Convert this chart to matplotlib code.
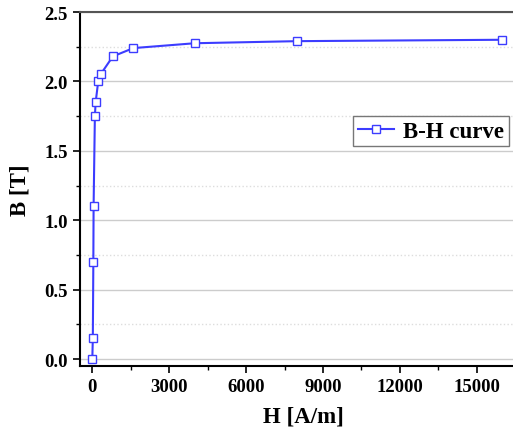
import matplotlib
matplotlib.use("Agg")
import matplotlib.pyplot as plt
from matplotlib.ticker import MultipleLocator

# B-H curve data
H_VALUES = [0, 20, 40, 50, 100, 130, 230, 320, 800, 1600, 4000, 8000, 16000]
B_VALUES = [0.0, 0.15, 0.70, 1.10, 1.75, 1.85, 2.00, 2.05, 2.18, 2.24, 2.275, 2.29, 2.30]
SERIES_LABEL = "B-H curve"

plt.rcParams["font.family"] = ["Liberation Serif", "DejaVu Serif"]
plt.rcParams["font.weight"] = "bold"

W, H = 513, 439
fig = plt.figure(figsize=(W / 100, H / 100), dpi=100)
ax = fig.add_axes([79.5 / W, 1 - 367 / H, (528 - 79.5) / W, (367 - 13) / H])

ax.plot(H_VALUES, B_VALUES, color="#3c3cff", linewidth=1.5, marker="s",
        markersize=5.5, markerfacecolor="white", markeredgecolor="#3c3cff",
        markeredgewidth=1.0, label=SERIES_LABEL, zorder=3)

ax.set_xlim(-500, 17000)
ax.set_ylim(-0.05, 2.5)

ax.xaxis.set_major_locator(MultipleLocator(3000))
ax.xaxis.set_minor_locator(MultipleLocator(1500))
ax.yaxis.set_major_locator(MultipleLocator(0.5))
ax.yaxis.set_minor_locator(MultipleLocator(0.25))
ax.yaxis.set_major_formatter(matplotlib.ticker.FormatStrFormatter("%.1f"))

ax.grid(True, which="major", axis="y", color="#cccccc", linewidth=1.0, linestyle="-")
ax.grid(True, which="minor", axis="y", color="#dddddd", linewidth=1.0, linestyle=":")
ax.set_axisbelow(True)

ax.tick_params(which="major", direction="out", length=5, width=1.2, labelsize=13.5)
ax.tick_params(which="minor", direction="out", length=3, width=1.0)

ax.spines["right"].set_visible(False)
ax.spines["top"].set_color("#555555")
ax.spines["top"].set_linewidth(1.5)
ax.spines["left"].set_linewidth(1.5)
ax.spines["bottom"].set_linewidth(1.5)

ax.set_xlabel("H [A/m]", fontsize=16.5, fontweight="bold", labelpad=8)
ax.set_ylabel("B [T]", fontsize=16.5, fontweight="bold", labelpad=10)

leg = ax.legend(loc="upper left", bbox_to_anchor=(353 / W, 1 - 117 / H),
                bbox_transform=fig.transFigure, borderaxespad=0,
                fancybox=False, framealpha=1, edgecolor="#777777",
                prop={"size": 16.5, "weight": "bold"}, handlelength=1.6,
                handletextpad=0.4, borderpad=0.2)
leg.get_frame().set_linewidth(1.0)

fig.savefig("out.png", dpi=100)
